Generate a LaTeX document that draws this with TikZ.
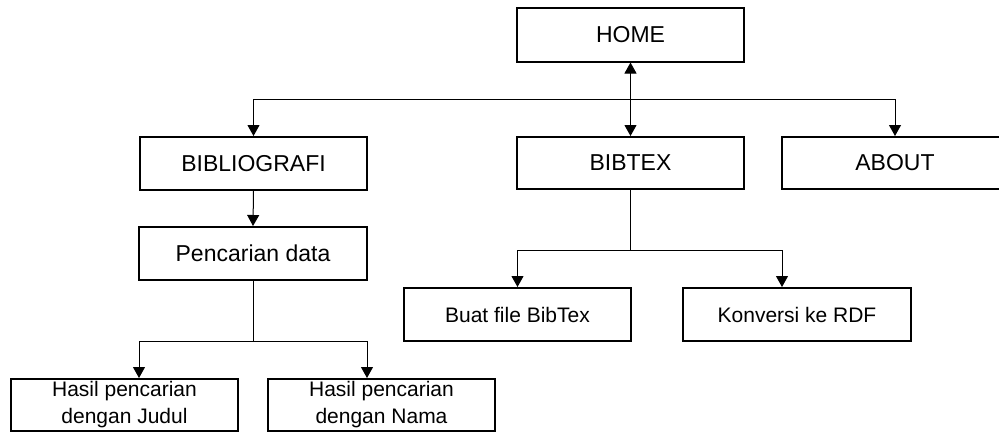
\documentclass[tikz,border=0pt]{standalone}
\usepackage{fontspec}
\setmainfont{Liberation Sans}
\usetikzlibrary{arrows.meta}
\begin{document}
\begin{tikzpicture}[x=1pt,y=-1pt,
  box/.style={draw, line width=2pt, inner sep=0pt, align=center, minimum width=227pt, minimum height=53pt},
  big/.style={font=\fontsize{23}{27}\selectfont},
  small/.style={font=\fontsize{21}{27}\selectfont},
  conn/.style={line width=1pt},
  tip/.tip={Triangle[width=12pt,length=11pt]},
  arr/.style={conn,-tip}]
\useasboundingbox (0,0) rectangle (999,432);
% boxes
\node[box,big,minimum height=54pt] (home) at (630.5,34.5) {HOME};
\node[box,big] (biblio) at (253.5,163.5) {BIBLIOGRAFI};
\node[box,big,minimum height=52pt] (bibtex) at (630.5,163) {BIBTEX};
\node[box,big,minimum height=52pt] (about) at (895,163) {ABOUT};
\node[box,big,minimum width=228pt] (cari) at (253,253.5) {Pencarian data};
\node[box,small] (buat) at (517.5,314.5) {Buat file BibTex};
\node[box,small,minimum width=228pt] (konv) at (797,314.5) {Konversi ke RDF};
\node[box,small,minimum height=52pt] (judul) at (124.5,405) {Hasil pencarian\\dengan Judul};
\node[box,small,minimum height=52pt] (nama) at (381.5,405) {Hasil pencarian\\dengan Nama};
% connectors
\draw[conn,tip-tip] (home.south) -- (bibtex.north);
\coordinate (tbus) at (630.5,99);
\draw[arr] (tbus) -| (biblio.north);
\draw[arr] (tbus) -| (about.north);
\draw[arr] (biblio.south) -- (cari.north);
\coordinate (bbus) at (630.5,250);
\draw[conn] (bibtex.south) -- (bbus);
\draw[arr] (bbus) -| (buat.north);
\coordinate (kin) at (782,287);
\draw[arr] (bbus) -| (kin);
\coordinate (pbus) at (253,341);
\draw[conn] (cari.south) -- (pbus);
\coordinate (jin) at (139,378);
\coordinate (nin) at (367,378);
\draw[arr] (pbus) -| (jin);
\draw[arr] (pbus) -| (nin);
\end{tikzpicture}
\end{document}
